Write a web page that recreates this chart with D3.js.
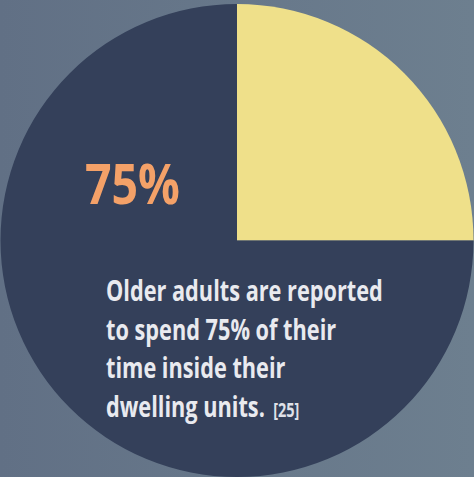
<!DOCTYPE html>
<html>
<head>
<meta charset="utf-8">
<script src="https://cdn.jsdelivr.net/npm/d3@7"></script>
<style>
  html, body { margin: 0; padding: 0; overflow: hidden; }
  svg { display: block; }
</style>
</head>
<body>
<div id="chart" style="width:474px;height:477px"></div>
<script>
// share of time older adults spend inside their dwelling units
const categories = ['Outside', 'Inside'];
const values = [25, 75];
const sliceColors = ['#efe08a', '#34405a'];
const bigLabel = '75%';
const bodyLines = ['Older adults are reported', 'to spend 75% of their', 'time inside their', 'dwelling units.'];
const citation = '[25]';

const width = 474, height = 477;
const cx = 237, cy = 240.5, radius = 236.5;
const font = '"Open Sans", "DejaVu Sans", sans-serif';

const svg = d3.select('#chart').append('svg')
    .attr('width', width)
    .attr('height', height)
    .attr('viewBox', [0, 0, width, height]);

// background gradient
const grad = svg.append('defs').append('linearGradient')
    .attr('id', 'bg')
    .attr('x1', 0).attr('x2', 1).attr('y1', 0).attr('y2', 0);
grad.append('stop').attr('offset', 0).attr('stop-color', '#617085');
grad.append('stop').attr('offset', 1).attr('stop-color', '#6d7f8f');

svg.append('rect')
    .attr('width', width)
    .attr('height', height)
    .attr('fill', 'url(#bg)');

const pie = d3.pie().sort(null).value(d => d);
const arc = d3.arc().innerRadius(0).outerRadius(radius);

const slices = svg.append('g')
    .attr('transform', `translate(${cx},${cy})`)
    .selectAll('path')
    .data(pie(values))
    .join('path')
    .attr('d', arc)
    .attr('fill', (d, i) => sliceColors[i]);

slices.append('title').text((d, i) => `${categories[i]}: ${d.data}%`);

// no condensed font installed, so squeeze a normal bold face horizontally
const big = svg.append('g');
const bigText = big.append('text')
    .attr('x', 0)
    .attr('y', 204)
    .attr('font-family', font)
    .attr('font-weight', 'bold')
    .attr('font-size', 56)
    .attr('fill', '#f4a168')
    .text(bigLabel);
const bigScale = 95 / bigText.node().getComputedTextLength();
big.attr('transform', `translate(85,0) scale(${bigScale},1)`);

const body = svg.append('g')
    .attr('font-family', font)
    .attr('font-weight', 'bold')
    .attr('fill', '#e9eaef');

body.selectAll('text')
    .data(bodyLines)
    .join('text')
    .attr('x', 0)
    .attr('y', (d, i) => 301.5 + i * 38.5)
    .attr('font-size', 28.5)
    .text(d => d);

const firstWidth = body.select('text').node().getComputedTextLength();
const bodyScale = 277 / firstWidth;
body.attr('transform', `translate(106,0) scale(${bodyScale},1)`);

// citation after last line
const lastLine = body.selectAll('text').filter((d, i) => i === bodyLines.length - 1);
const lastWidth = lastLine.node().getComputedTextLength();
body.append('text')
    .attr('x', lastWidth + 11)
    .attr('y', 301.5 + (bodyLines.length - 1) * 38.5)
    .attr('font-size', 19)
    .attr('fill', '#dfe1e8')
    .text(citation);
</script>
</body>
</html>
